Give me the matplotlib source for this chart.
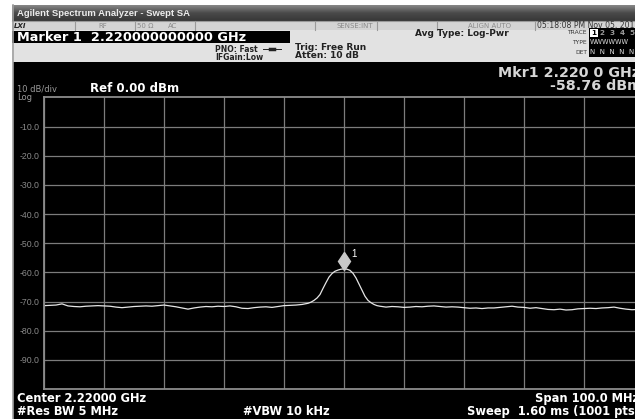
import matplotlib
matplotlib.use('Agg')
import matplotlib.pyplot as plt
import matplotlib.transforms as mtransforms
from matplotlib.colors import LinearSegmentedColormap
from matplotlib.patches import Rectangle
import numpy as np

# sweep: offset from start frequency (MHz) and trace level (dBm)
start_ghz = 2.17
span_mhz = 100.0
freq_offset_mhz = [
    0, 1, 2, 3, 4, 5, 6, 7, 8, 9,
    10, 11, 12, 13, 14, 15, 16, 17, 18, 19,
    20, 21, 22, 23, 24, 25, 26, 27, 28, 29,
    30, 31, 32, 33, 34, 35, 36, 37, 38, 39,
    40, 41, 42, 43,
    44, 44.5, 45, 45.5, 46, 46.5, 47, 47.5, 48, 48.5,
    49, 49.5, 50, 50.5, 51, 51.5, 52, 52.5, 53, 53.5,
    54, 54.5, 55, 55.5, 56,
    57, 58, 59, 60, 61, 62, 63, 64, 65, 66,
    67, 68, 69, 70, 71, 72, 73, 74, 75, 76,
    77, 78, 79, 80, 81, 82, 83, 84, 85, 86,
    87, 88, 89, 90, 91, 92, 93, 94, 95, 96,
    97, 98, 99, 100,
]
level_dbm = [
    -71.4, -71.3, -71.2, -70.8, -71.5, -71.7, -71.8, -71.6, -71.5, -71.4,
    -71.5, -71.6, -71.9, -72.1, -71.9, -71.7, -71.6, -71.5, -71.6, -71.4,
    -71.2, -71.5, -71.8, -72.2, -72.6, -72.2, -71.9, -71.7, -71.8, -71.6,
    -71.7, -71.5, -71.8, -72.3, -72.4, -72.1, -71.9, -71.8, -72.0, -71.7,
    -71.4, -71.3, -71.2, -71.0,
    -70.6, -70.2, -69.6, -68.8, -67.6, -65.5, -63.5, -61.6, -60.4, -59.6,
    -59.2, -58.9, -58.8, -58.9, -59.3, -60.3, -61.9, -64.0, -66.1, -68.2,
    -69.6, -70.4, -71.0, -71.4, -71.6,
    -71.9, -71.7, -71.8, -72.0, -71.9, -71.7, -71.8, -71.6, -71.5, -71.7,
    -71.9, -71.8, -71.9, -72.1, -72.3, -72.2, -72.4, -72.2, -72.2, -72.0,
    -71.8, -71.6, -71.9, -72.0, -72.3, -72.1, -72.4, -72.7, -72.8, -72.6,
    -72.9, -72.8, -72.5, -72.4, -72.3, -72.4, -72.2, -72.1, -71.9, -72.3,
    -72.6, -72.8, -72.7, -72.6,
]
y_ticks = [-10, -20, -30, -40, -50, -60, -70, -80, -90]
y_labels = ['-10.0', '-20.0', '-30.0', '-40.0', '-50.0', '-60.0', '-70.0', '-80.0', '-90.0']
ref_level = 0
bottom_level = -100
mkr_freq_ghz = 2.22
mkr_level = -58.76

W, H = 635, 419
fig = plt.figure(figsize=(W / 100, H / 100), dpi=100)
fig.patch.set_facecolor('white')

# overlay in pixel coords for the instrument frame
bg = fig.add_axes([0, 0, 1, 1])
bg.axis('off')

def box(x0, y0, x1, y1, color):
    bg.add_patch(Rectangle((x0, y0), x1 - x0, y1 - y0, facecolor=color, edgecolor='none'))

def txt(x, y, s, size, color, weight='normal', ha='left', family='DejaVu Sans', **kw):
    bg.text(x, y, s, fontsize=size, color=color, fontweight=weight, ha=ha, va='center',
            family=family, **kw)

# title bar
cm = LinearSegmentedColormap.from_list('bar', ['#858585', '#4a4a4a', '#383838'])
bg.imshow(np.linspace(0, 1, 16).reshape(-1, 1), cmap=cm, aspect='auto',
          extent=[12, W, 21, 5], interpolation='bilinear')
txt(17, 13, 'Agilent Spectrum Analyzer - Swept SA', 6.8, '#ececec', 'bold', family='Liberation Sans')

# status row
box(12, 21, W, 30, '#d4d4d4')
for xd in [75, 135, 195, 315, 377, 437, 535]:
    bg.plot([xd, xd], [21, 30], color='#9a9a9a', lw=0.8)
bg.plot([12, W], [21, 21], color='#9a9a9a', lw=0.8)
txt(14, 25.5, 'LXI', 5, '#222222', 'bold', style='italic')
txt(103, 25.5, 'RF', 5, '#8a8a8a', ha='center')
txt(145, 25.5, '50 \u03a9', 5, '#8a8a8a', ha='center')
txt(173, 25.5, 'AC', 5, '#8a8a8a', ha='center')
txt(355, 25.5, 'SENSE:INT', 5, '#8a8a8a', ha='center')
txt(490, 25.5, 'ALIGN AUTO', 5, '#8a8a8a', ha='center')
txt(537, 25.5, '05:18:08 PM Nov 05, 2013', 5.6, '#333333')

# marker row + settings rows
box(12, 30, W, 62, '#e2e2e2')
box(12, 31, 290, 43, 'black')
txt(17, 37.5, 'Marker 1  2.220000000000 GHz', 9.3, 'white', 'bold')
txt(258, 49, 'PNO: Fast', 5.5, '#222222', 'bold', ha='right')
bg.plot([263, 281], [49, 49], color='#222222', lw=0.7)
bg.plot([270, 274], [49, 49], color='#222222', lw=2.5)
txt(263, 57, 'IFGain:Low', 5.5, '#222222', 'bold', ha='right')
txt(295, 47, 'Trig: Free Run', 6.5, '#222222', 'bold')
txt(295, 56, 'Atten: 10 dB', 6.5, '#222222', 'bold')
txt(415, 34, 'Avg Type: Log-Pwr', 6.5, '#222222', 'bold')
txt(587, 33, 'TRACE', 4.3, '#333333', ha='right')
txt(587, 42, 'TYPE', 4.3, '#333333', ha='right')
txt(587, 52, 'DET', 4.3, '#333333', ha='right')
box(589, 28, W, 57, 'black')
box(590, 29, 598, 37, 'white')
txt(591.5, 33, '1', 5.2, 'black', 'bold')
txt(600, 33, '2  3  4  5', 5.2, '#9a9a9a', 'bold')
txt(590, 42.5, 'WWWWWW', 4.8, '#dddddd')
txt(590, 52, 'N  N  N  N  N', 5, '#dddddd')

# screen
box(13, 62, W, H, 'black')
bg.plot([12.5, 12.5], [5, H], color='#a0a0a0', lw=1.2)
txt(498, 73, 'Mkr1 2.220 0 GHz', 10.3, '#d6d6d6', 'bold')
txt(550, 86, '-58.76 dBm', 10.3, '#d6d6d6', 'bold')
txt(17, 89.5, '10 dB/div', 6, '#9a9a9a')
txt(17, 97, 'Log', 6, '#9a9a9a')
txt(90, 89, 'Ref 0.00 dBm', 8.5, 'white', 'bold')
txt(17, 398, 'Center 2.22000 GHz', 8.3, 'white', 'bold')
txt(17, 411, '#Res BW 5 MHz', 8.3, 'white', 'bold')
txt(243, 411, '#VBW 10 kHz', 8.3, 'white', 'bold')
txt(535, 398, 'Span 100.0 MHz', 8.3, 'white', 'bold')
txt(467, 411, 'Sweep  1.60 ms (1001 pts)', 8.3, 'white', 'bold')
bg.set_xlim(0, W)
bg.set_ylim(H, 0)

# graticule (right part runs past the cropped screenshot edge)
ax = fig.add_axes([44 / W, (H - 389) / H, 600 / W, (389 - 97.5) / H])
ax.set_facecolor('black')
freq_ghz = [start_ghz + f / 1000 for f in freq_offset_mhz]
ax.plot(freq_ghz, level_dbm, color='#e6e6e6', lw=0.9)
ax.set_xlim(start_ghz, start_ghz + span_mhz / 1000)
ax.set_ylim(bottom_level, ref_level)
ax.set_xticks([start_ghz + k * 0.01 for k in range(11)])
ax.set_yticks(y_ticks)
ax.set_yticklabels(y_labels)
ax.tick_params(axis='x', length=0, labelbottom=False)
ax.tick_params(axis='y', length=0, pad=3, labelsize=6.3, labelcolor='#8a8a8a')
for lbl in ax.get_yticklabels():
    lbl.set_family('Liberation Sans')
ax.grid(True, color='#7c7c7c', lw=0.9)
for sp in ax.spines.values():
    sp.set_color('#8c8c8c')
    sp.set_linewidth(1.3)

# marker 1 diamond above the peak
up = ax.transData + mtransforms.ScaledTranslation(0, 0.075, fig.dpi_scale_trans)
ax.plot([mkr_freq_ghz], [mkr_level], marker='d', ms=9.5, color='#c8c8c8',
        transform=up, clip_on=False)
ax.annotate('1', xy=(mkr_freq_ghz, mkr_level), xytext=(5.5, 10.5), textcoords='offset points',
            color='white', fontsize=7, ha='left', va='center', family='Liberation Sans')

fig.savefig('out.png', dpi=100, facecolor='white')
